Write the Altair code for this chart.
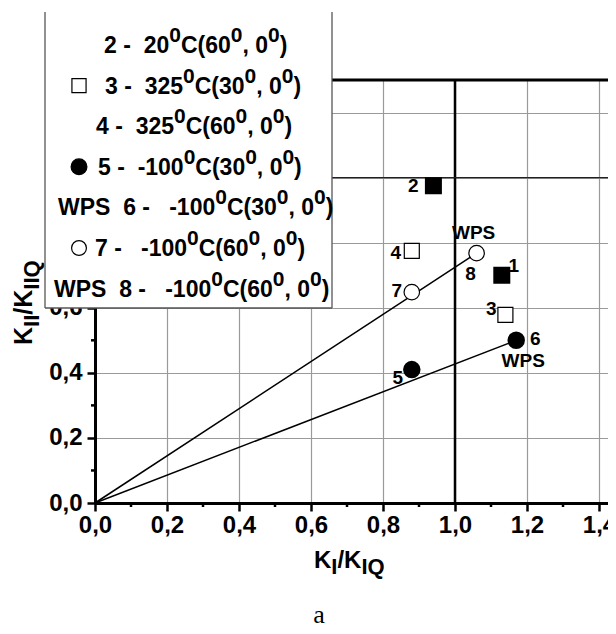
import altair as alt
import pandas as pd

# ---------------- data ----------------
pt_id = ["1", "2", "3", "4", "5", "6", "7", "8"]
pt_x = [1.13, 0.94, 1.14, 0.88, 0.88, 1.17, 0.88, 1.06]
pt_y = [0.70, 0.975, 0.578, 0.775, 0.41, 0.50, 0.648, 0.768]
pt_kind = ["filled square", "filled square", "open square", "open square",
           "filled circle", "filled circle", "open circle", "open circle"]

ray_name = ["60", "60", "30", "30"]
ray_x = [0.0, 1.06, 0.0, 1.17]
ray_y = [0.0, 0.768, 0.0, 0.50]

x_major = [0.0, 0.2, 0.4, 0.6, 0.8, 1.0, 1.2, 1.4]
y_major = [0.0, 0.2, 0.4, 0.6, 0.8, 1.0, 1.2]
x_minor = [0.1, 0.3, 0.5, 0.7, 0.9, 1.1, 1.3]
y_minor = [0.1, 0.3, 0.5, 0.7, 0.9, 1.1]
ref_x = [1.0]
ref_y_thin = [1.0]
ref_y_top = [1.3]

label_text = ["1", "2", "3", "4", "5", "6", "7", "8", "WPS", "WPS"]
label_point = ["1", "2", "3", "4", "5", "6", "7", "8", "8", "6"]

legend_text = [
    "2 -  20^{0}C(60^{0}, 0^{0})",
    "3 -  325^{0}C(30^{0}, 0^{0})",
    "4 -  325^{0}C(60^{0}, 0^{0})",
    "5 -  -100^{0}C(30^{0}, 0^{0})",
    "WPS  6 -   -100^{0}C(30^{0}, 0^{0})",
    "7 -   -100^{0}C(60^{0}, 0^{0})",
    "WPS  8 -   -100^{0}C(60^{0}, 0^{0})",
]
legend_marker = ["", "open square", "", "filled circle", "", "open circle", ""]

x_title = "K_{I}/K_{IQ}"
y_title = "K_{II}/K_{IIQ}"
panel_tag = "a"

# ---------------- layout / style ----------------
FONT = "Liberation Sans"
OX, OY = 95, 80          # plot origin in page pixels
W, H = 513, 423
XMAX = W / 360.0
YMAX = 1.3

xs = alt.Scale(domain=[0, XMAX], nice=False, zero=False)
ys = alt.Scale(domain=[0, YMAX], nice=False, zero=False)

one = pd.DataFrame({"k": [0]})

AW = {"0": .556, "1": .556, "2": .556, "3": .556, "4": .556, "5": .556,
      "6": .556, "7": .556, "8": .556, "9": .556, " ": .278, "-": .333,
      "C": .722, "(": .333, ")": .333, ",": .278, "W": .944, "P": .667,
      "S": .667, "K": .722, "I": .278, "Q": .778, "/": .278}


def tw(s, size):
    return sum(AW.get(c, .6) for c in s) * size


def parse(markup):
    out, buf, i = [], "", 0
    while i < len(markup):
        c = markup[i]
        if c in "^_" and i + 1 < len(markup) and markup[i + 1] == "{":
            j = markup.index("}", i)
            if buf:
                out.append((buf, "n"))
                buf = ""
            out.append((markup[i + 2:j], "sup" if c == "^" else "sub"))
            i = j + 1
        else:
            buf += c
            i += 1
    if buf:
        out.append((buf, "n"))
    return out


def piece(word, fs, px, py, angle):
    return alt.Chart(one).mark_text(
        text=word, font=FONT, fontSize=fs, fontWeight="bold", align="left",
        baseline="alphabetic", angle=angle, color="black"
    ).encode(x=alt.value(px - OX), y=alt.value(py - OY))


def rich_text(markup, x, y, size, ssize, shift, angle=0):
    layers = []
    cur = 0.0
    for text, kind in parse(markup):
        fs = size if kind == "n" else ssize
        off = 0 if kind == "n" else (-shift if kind == "sup" else shift)
        word = ""
        for ch in text + "\x00":
            if ch in " \x00":
                if word:
                    if angle == 0:
                        layers.append(piece(word, fs, x + cur, y + off, 0))
                    else:
                        layers.append(piece(word, fs, x + off, y - cur, angle))
                    cur += tw(word, fs)
                    word = ""
                if ch == " ":
                    cur += AW[" "] * fs
            else:
                word += ch
    return layers


pts = pd.DataFrame({"id": pt_id, "x": pt_x, "y": pt_y, "kind": pt_kind})
rays = pd.DataFrame({"ray": ray_name, "x": ray_x, "y": ray_y})

label_expr = "replace(format(datum.value, '.1f'), '.', ',')"
axis_common = dict(
    title=None, grid=True, gridColor="#9a9a9a", gridWidth=1.2,
    domainColor="black", domainWidth=3, tickColor="black", tickWidth=2.5,
    tickSize=8, labelFont=FONT, labelFontSize=24, labelFontWeight="bold",
    labelColor="black", labelExpr=label_expr, labelFlush=False,
    labelOverlap=False,
)

base_rays = alt.Chart(rays).mark_line(color="black", strokeWidth=1.5).encode(
    x=alt.X("x:Q", scale=xs, axis=alt.Axis(values=x_major, labelPadding=2, **axis_common)),
    y=alt.Y("y:Q", scale=ys, axis=alt.Axis(values=y_major, labelPadding=5, **axis_common)),
    detail="ray:N",
)

vref = alt.Chart(pd.DataFrame({"x": ref_x})).mark_rule(color="black", strokeWidth=2.5).encode(
    x=alt.X("x:Q", scale=xs))
href = alt.Chart(pd.DataFrame({"y": ref_y_thin})).mark_rule(color="#222222", strokeWidth=1.3).encode(
    y=alt.Y("y:Q", scale=ys))
topref = alt.Chart(pd.DataFrame({"y": ref_y_top})).mark_rule(color="black", strokeWidth=3).encode(
    y=alt.Y("y:Q", scale=ys))

xminor = alt.Chart(pd.DataFrame({"x": x_minor})).mark_rule(color="black", strokeWidth=2.5).encode(
    x=alt.X("x:Q", scale=xs), y=alt.value(H), y2=alt.value(H + 4))
yminor = alt.Chart(pd.DataFrame({"y": y_minor})).mark_rule(color="black", strokeWidth=2.5).encode(
    y=alt.Y("y:Q", scale=ys), x=alt.value(-4), x2=alt.value(0))

enc_pt = dict(x=alt.X("x:Q", scale=xs), y=alt.Y("y:Q", scale=ys))
fsq = alt.Chart(pts).transform_filter(alt.datum.kind == "filled square").mark_point(
    shape="square", filled=True, fill="black", stroke="black", size=225, opacity=1).encode(**enc_pt)
osq = alt.Chart(pts).transform_filter(alt.datum.kind == "open square").mark_point(
    shape="square", filled=True, fill="white", stroke="black", strokeWidth=1.2, size=225, opacity=1).encode(**enc_pt)
fci = alt.Chart(pts).transform_filter(alt.datum.kind == "filled circle").mark_point(
    shape="circle", filled=True, fill="black", stroke="black", size=240, opacity=1).encode(**enc_pt)
oci = alt.Chart(pts).transform_filter(alt.datum.kind == "open circle").mark_point(
    shape="circle", filled=True, fill="white", stroke="black", strokeWidth=1.2, size=240, opacity=1).encode(**enc_pt)

label_offsets = [(12, -9), (-20, 0), (-14, -6), (-16, 2), (-14, 8), (19, -1),
                 (-15, -1), (-6, 21), (-3, -20), (7, 21)]
label_layers = []
for txt, pid, (dx, dy) in zip(label_text, label_point, label_offsets):
    label_layers.append(
        alt.Chart(pts).transform_filter(alt.datum.id == pid).mark_text(
            text=txt, font=FONT, fontSize=19, fontWeight="bold", color="black",
            align="center", baseline="middle", dx=dx, dy=dy).encode(**enc_pt))

# legend box
LX0, LX1, LY0, LY1 = 45, 332, 12, 308
legend_layers = [
    alt.Chart(one).mark_rect(fill="white", stroke=None).encode(
        x=alt.value(LX0 - OX), x2=alt.value(LX1 - OX), y=alt.value(-OY), y2=alt.value(LY1 - OY)),
    alt.Chart(one).mark_rule(color="#555555", strokeWidth=1.3).encode(
        x=alt.value(LX0 - OX), y=alt.value(LY0 - OY), y2=alt.value(LY1 - OY)),
    alt.Chart(one).mark_rule(color="#555555", strokeWidth=1.3).encode(
        x=alt.value(LX1 - OX), y=alt.value(LY0 - OY), y2=alt.value(LY1 - OY)),
    alt.Chart(one).mark_rule(color="#555555", strokeWidth=1.3).encode(
        x=alt.value(LX0 - OX), x2=alt.value(LX1 - OX), y=alt.value(LY1 - OY)),
]
row_x = [104, 105, 96, 98, 58, 95, 54]
row_base0, row_step = 53, 40.6
marker_style = {
    "open square": dict(shape="square", fill="white", size=200),
    "filled circle": dict(shape="circle", fill="black", size=250),
    "open circle": dict(shape="circle", fill="white", size=220),
}
for i, (txt, mk) in enumerate(zip(legend_text, legend_marker)):
    yb = row_base0 + row_step * i
    legend_layers += rich_text(txt, row_x[i], yb, 23, 21, 11)
    if mk:
        st = marker_style[mk]
        legend_layers.append(alt.Chart(one).mark_point(
            shape=st["shape"], filled=True, fill=st["fill"], stroke="black",
            strokeWidth=1.2, size=st["size"], opacity=1).encode(
            x=alt.value(79 - OX), y=alt.value(yb - 8 - OY)))

title_layers = rich_text(x_title, 314, 568, 24, 22, 6)
title_layers += rich_text(y_title, 32, 345, 25, 22, 7, angle=270)
tag = alt.Chart(one).mark_text(text=panel_tag, font="Liberation Serif", fontSize=26,
                               align="center", baseline="alphabetic", color="black").encode(
    x=alt.value(319 - OX), y=alt.value(623 - OY))

chart = alt.layer(
    base_rays, vref, href, topref, xminor, yminor, fsq, osq, fci, oci,
    *label_layers, *legend_layers, *title_layers, tag
).properties(
    width=W, height=H,
    padding={"left": OX - 8, "top": OY - 8, "right": 0, "bottom": 123},
    autosize=alt.AutoSizeParams(type="none"),
).configure_view(stroke=None).configure(background="white")

chart.save("out.html", embed_options={"renderer": "svg", "actions": False})
